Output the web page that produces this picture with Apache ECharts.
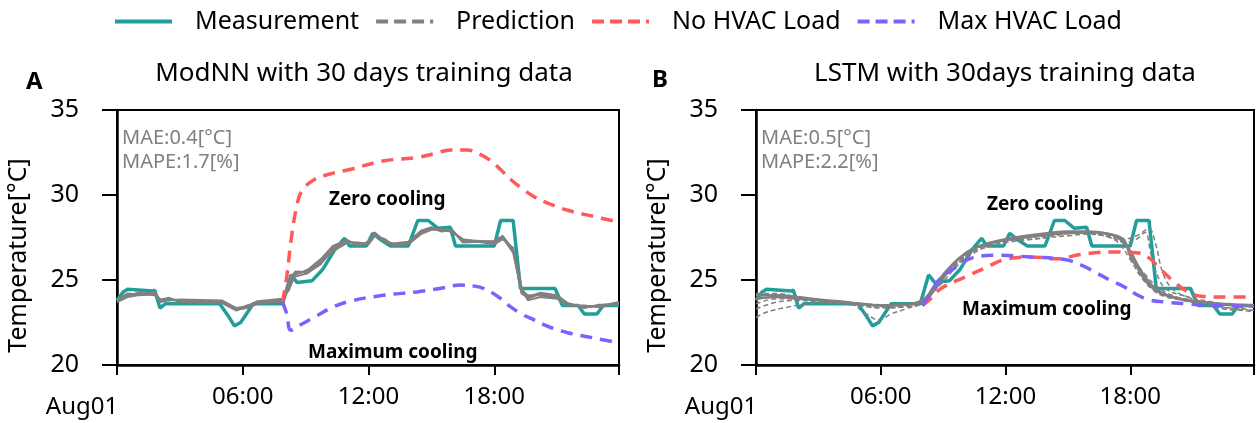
<!DOCTYPE html>
<html>
<head>
<meta charset="utf-8">
<script src="https://cdn.jsdelivr.net/npm/echarts@6/dist/echarts.min.js"></script>
<style>
  html, body { margin: 0; padding: 0; background: #fff; }
  #main { width: 1257px; height: 423px; }
</style>
</head>
<body>
<div id="main"></div>
<script>
// hours since Aug01 00:00, temperature in °C
var measurement = [[0,23.8],[0.3,24.3],[0.5,24.45],[1.7,24.35],[1.8,24.4],[2.05,23.35],[2.3,23.6],[4.9,23.6],[5.3,22.9],[5.6,22.3],[5.9,22.5],[6.5,23.6],[7.9,23.6],[8.3,25.3],[8.6,24.85],[9.3,24.95],[9.8,25.6],[10.4,26.8],[10.85,27.45],[11.1,27.0],[11.9,27.0],[12.2,27.75],[12.6,27.35],[13.05,27.0],[13.9,27.0],[14.35,28.5],[14.85,28.5],[15.3,28.05],[15.9,28.1],[16.15,27.0],[18.0,27.0],[18.3,28.5],[18.9,28.5],[19.25,24.5],[20.9,24.5],[21.25,23.5],[22.0,23.5],[22.3,23.0],[22.9,23.0],[23.2,23.5],[23.95,23.5]];

// ModNN predictions
var predA1 = [[0,23.8],[0.5,24.1],[1.0,24.2],[1.8,24.2],[2.1,23.7],[2.5,23.9],[3,23.8],[5,23.75],[5.7,23.3],[6.2,23.4],[6.7,23.7],[7.9,23.85],[8.2,24.6],[8.5,25.4],[9.1,25.5],[9.7,26.1],[10.3,26.9],[11.0,27.3],[11.5,27.1],[12.0,27.2],[12.3,27.7],[12.8,27.3],[13.2,27.1],[13.9,27.2],[14.5,27.9],[15.0,28.1],[15.5,27.9],[16.0,27.9],[16.5,27.3],[18.0,27.2],[18.4,27.55],[18.9,26.8],[19.3,24.3],[19.6,23.9],[20.2,24.2],[21.0,24.0],[21.5,23.6],[22.3,23.4],[23.0,23.5],[23.95,23.6]];
var predA2 = [[0,23.7],[0.5,24.0],[1.0,24.1],[1.8,24.15],[2.1,23.8],[2.5,23.85],[3,23.75],[5,23.7],[5.7,23.25],[6.2,23.35],[6.7,23.6],[7.9,23.8],[8.2,24.8],[8.5,25.2],[9.1,25.4],[9.7,26.0],[10.3,26.7],[11.0,27.2],[11.5,27.2],[12.0,27.1],[12.3,27.6],[12.8,27.4],[13.2,27.0],[13.9,27.1],[14.5,27.7],[15.0,27.95],[15.5,28.0],[16.0,27.8],[16.5,27.4],[18.0,27.1],[18.4,27.4],[18.9,26.9],[19.3,24.6],[19.6,23.8],[20.2,24.0],[21.0,23.9],[21.5,23.5],[22.3,23.5],[23.0,23.4],[23.95,23.65]];
var predA3 = [[0,23.85],[0.5,24.2],[1.0,24.15],[1.8,24.3],[2.1,23.75],[2.5,23.8],[3,23.85],[5,23.8],[5.7,23.35],[6.2,23.45],[6.7,23.75],[7.9,23.9],[8.2,24.4],[8.5,25.3],[9.1,25.6],[9.7,26.2],[10.3,27.0],[11.0,27.35],[11.5,27.0],[12.0,27.25],[12.3,27.8],[12.8,27.25],[13.2,27.15],[13.9,27.25],[14.5,27.85],[15.0,28.05],[15.5,27.85],[16.0,27.95],[16.5,27.2],[18.0,27.3],[18.4,27.6],[18.9,26.7],[19.3,24.2],[19.6,24.0],[20.2,24.25],[21.0,24.1],[21.5,23.65],[22.3,23.35],[23.0,23.55],[23.95,23.55]];
var predA4 = [[0,23.75],[0.5,24.05],[1.0,24.25],[1.8,24.1],[2.1,23.85],[2.5,23.95],[3,23.7],[5,23.65],[5.7,23.2],[6.2,23.5],[6.7,23.65],[7.9,23.75],[8.2,25.0],[8.5,25.5],[9.1,25.45],[9.7,25.9],[10.3,26.8],[11.0,27.25],[11.5,27.15],[12.0,27.15],[12.3,27.65],[12.8,27.35],[13.2,27.05],[13.9,27.15],[14.5,27.8],[15.0,28.0],[15.5,27.95],[16.0,27.85],[16.5,27.35],[18.0,27.25],[18.4,27.5],[18.9,26.6],[19.3,24.4],[19.6,24.1],[20.2,24.1],[21.0,23.95],[21.5,23.55],[22.3,23.45],[23.0,23.45],[23.95,23.7]];

// LSTM predictions
var predB1 = [[0,23.9],[1,24.0],[2,23.9],[3,23.8],[4,23.7],[5,23.6],[6,23.5],[7,23.55],[7.7,23.65],[8.2,23.9],[8.7,24.6],[9.3,25.7],[10.1,26.6],[10.8,27.0],[11.7,27.3],[13.2,27.55],[14.85,27.75],[16.4,27.8],[17.2,27.65],[17.7,27.35],[18.0,26.4],[18.4,25.6],[18.7,25.0],[19.1,24.5],[19.5,24.2],[20.0,24.0],[20.7,23.8],[21.5,23.7],[22.3,23.6],[23.2,23.55],[23.95,23.5]];
var predB2 = [[0,22.8],[0.5,23.1],[1.5,23.4],[2.5,23.6],[3.5,23.65],[5,23.5],[6,23.4],[7,23.45],[8,23.75],[8.5,24.3],[9,24.9],[9.5,25.6],[10,26.2],[10.5,26.6],[11,26.9],[12,27.2],[13,27.35],[14,27.5],[15,27.6],[16,27.7],[17,27.5],[17.5,27.1],[18,26.2],[18.5,25.2],[19,24.5],[19.5,24.1],[20.5,23.8],[21.5,23.6],[22.5,23.3],[23.5,23.2],[23.95,23.1]];
var predB3 = [[0,23.3],[1,23.7],[2,23.8],[3,23.7],[4.5,23.6],[5.3,23.0],[5.9,22.65],[6.5,23.0],[7.2,23.3],[8,23.7],[8.6,24.5],[9.2,25.4],[9.8,26.1],[10.4,26.6],[11,27.0],[12,27.3],[13,27.4],[14,27.5],[14.6,27.8],[15.5,27.8],[16.3,27.7],[17.2,27.45],[17.8,27.0],[18.3,26.0],[18.8,25.2],[19.3,24.6],[20,24.1],[21,23.8],[22,23.5],[23,23.3],[23.95,23.2]];
var predB4 = [[0,24.2],[1,24.2],[2,24.0],[3,23.8],[4,23.7],[5,23.6],[6,23.55],[7,23.55],[8,23.7],[8.6,24.4],[9.2,25.4],[9.8,26.2],[10.4,26.7],[11,27.0],[12,27.3],[13,27.5],[14,27.7],[15,27.8],[16,27.8],[17,27.6],[17.8,27.2],[18.3,27.4],[18.7,27.8],[19.0,26.5],[19.4,25.0],[19.8,24.4],[20.5,24.1],[21.5,23.7],[22.5,23.4],[23.5,23.3],[23.95,23.2]];
var predB5 = [[0,23.6],[1,23.9],[2,23.9],[3,23.8],[4,23.65],[5,23.5],[6,23.35],[7,23.4],[8,23.6],[8.7,24.6],[9.3,25.5],[9.9,26.2],[10.5,26.8],[11.2,27.1],[12.2,27.35],[13.2,27.5],[14.2,27.6],[15.2,27.75],[16.2,27.8],[17,27.7],[17.7,27.4],[18.3,27.6],[18.9,28.0],[19.2,27.2],[19.6,25.3],[20.1,24.4],[20.8,24.0],[22,23.7],[23,23.5],[23.95,23.4]];
var predB6 = [[0,24.1],[1,24.1],[2,24.0],[3,23.85],[4,23.75],[5,23.6],[6,23.5],[7,23.55],[8,23.8],[8.6,24.7],[9.2,25.6],[9.8,26.3],[10.4,26.8],[11,27.1],[12,27.4],[13,27.6],[14,27.75],[15,27.85],[16,27.85],[16.8,27.75],[17.4,27.5],[17.9,26.9],[18.3,26.0],[18.7,25.2],[19.2,24.5],[19.8,24.1],[20.6,23.85],[21.5,23.7],[22.5,23.55],[23.5,23.5],[23.95,23.45]];

var noLoadA = [[7.9,23.7],[8.1,25.2],[8.3,27.3],[8.55,29.2],[8.8,30.2],[9.4,30.9],[10.2,31.25],[11.1,31.5],[12.7,32.0],[14.3,32.2],[15.2,32.45],[15.9,32.65],[16.7,32.65],[17.3,32.4],[17.8,32.05],[18.3,31.5],[18.8,30.9],[19.3,30.4],[19.9,29.9],[20.6,29.5],[21.5,29.1],[22.7,28.75],[23.95,28.4]];
var maxLoadA = [[7.9,23.7],[8.1,23.0],[8.3,22.05],[8.8,22.4],[9.4,22.8],[10.2,23.35],[11.1,23.75],[12.7,24.1],[14.3,24.3],[15.4,24.5],[16.4,24.7],[17.0,24.65],[17.5,24.5],[18.2,24.0],[18.8,23.4],[19.3,23.0],[19.9,22.65],[20.6,22.25],[21.5,21.9],[22.7,21.6],[23.95,21.3]];
var noLoadB = [[8.0,23.5],[8.4,23.9],[8.9,24.5],[10.1,25.2],[11.0,25.7],[12.1,26.25],[13.2,26.35],[14.5,26.25],[15.6,26.5],[17.2,26.65],[18.3,26.6],[18.9,26.3],[19.4,25.7],[20.1,24.9],[20.7,24.35],[21.4,24.05],[22.5,24.0],[23.95,24.0]];
var maxLoadB = [[8.0,23.5],[8.4,24.2],[8.8,25.0],[9.6,25.75],[10.4,26.3],[11.7,26.45],[13.2,26.35],[14.85,26.2],[15.7,25.85],[16.4,25.4],[17.1,24.95],[17.7,24.6],[18.3,24.15],[18.85,23.85],[19.7,23.7],[20.7,23.6],[22.0,23.5],[23.95,23.45]];

var xTicks = {0: 'Aug01', 6: '06:00', 12: '12:00', 18: '18:00'};
var metricsA = ['MAE:0.4[°C]', 'MAPE:1.7[%]'];
var metricsB = ['MAE:0.5[°C]', 'MAPE:2.2[%]'];

var FONT = 'Noto Sans';
var TEAL = '#1f9e9b', GRAY = '#808080', RED = '#ff5a5a', PURPLE = '#7b61ff';

function xAxis(idx) {
    return {
        type: 'value', gridIndex: idx, min: 0, max: 23.95, interval: 6,
        axisLine: { lineStyle: { color: '#000', width: 2.5 } },
        axisTick: { length: 10, lineStyle: { color: '#000', width: 2 } },
        splitLine: { show: false },
        axisLabel: {
            color: '#000', fontFamily: FONT, fontSize: 24, margin: 20,
            formatter: function (v) {
                if (v === 0) return '{first|Aug01}';
                return xTicks[v] || '';
            },
            rich: { first: { fontFamily: FONT, fontSize: 24, color: '#000', padding: [10, 70, 0, 0] } }
        }
    };
}
function yAxis(idx) {
    return {
        type: 'value', gridIndex: idx, min: 20, max: 35, interval: 5,
        name: 'Temperature[°C]', nameLocation: 'middle', nameGap: 86,
        nameTextStyle: { color: '#000', fontFamily: FONT, fontSize: 25, padding: [0, 36, 0, 0] },
        axisLine: { lineStyle: { color: '#000', width: 2.5 } },
        axisTick: { length: 15, lineStyle: { color: '#000', width: 2 } },
        splitLine: { show: false },
        axisLabel: { color: '#000', fontFamily: FONT, fontSize: 25, margin: 38 }
    };
}
function line(name, data, idx, color, width, type, smooth) {
    return {
        name: name, type: 'line', data: data, xAxisIndex: idx, yAxisIndex: idx,
        symbol: 'none', smooth: smooth || false, silent: true,
        lineStyle: { color: color, width: width, type: type || 'solid' },
        itemStyle: { color: color }
    };
}

var series = [
    line('Measurement', measurement, 0, TEAL, 3.5),
    line('Prediction', predA1, 0, GRAY, 2),
    line('Prediction', predA2, 0, GRAY, 2),
    line('Prediction', predA3, 0, GRAY, 2),
    line('Prediction', predA4, 0, GRAY, 2),
    line('No HVAC Load', noLoadA, 0, RED, 3.5, [12, 8], 0.4),
    line('Max HVAC Load', maxLoadA, 0, PURPLE, 3.5, [12, 8], 0.4),
    line('Measurement', measurement, 1, TEAL, 3.5),
    line('Prediction', predB1, 1, GRAY, 2.5, 'solid', 0.4),
    line('Prediction', predB6, 1, GRAY, 2.5, 'solid', 0.4),
    line('Prediction', predB2, 1, GRAY, 1.5, [5, 3], 0.4),
    line('Prediction', predB3, 1, GRAY, 1.5, [5, 3], 0.4),
    line('Prediction', predB4, 1, GRAY, 1.5, [5, 3], 0.4),
    line('Prediction', predB5, 1, GRAY, 1.5, [5, 3], 0.4),
    line('No HVAC Load', noLoadB, 1, RED, 3.5, [12, 8], 0.4),
    line('Max HVAC Load', maxLoadB, 1, PURPLE, 3.5, [12, 8], 0.4)
];

function txt(x, y, text, size, color, weight, align) {
    return {
        type: 'text', left: x, top: y, silent: true,
        style: { text: text, fill: color, fontFamily: FONT, fontSize: size, fontWeight: weight || 'normal', textAlign: align || 'left', textVerticalAlign: 'middle' }
    };
}

var chart = echarts.init(document.getElementById('main'));
chart.setOption({
    animation: false,
    backgroundColor: '#fff',
    legend: {
        top: 4, left: 108, itemWidth: 57, itemHeight: 14, itemGap: 15,
        itemStyle: { opacity: 0 },
        textStyle: { fontFamily: FONT, fontSize: 25, color: '#000', rich: { t: { fontFamily: FONT, fontSize: 25, color: '#000', padding: [0, 0, 0, 18] } } },
        formatter: '{t|{name}}',
        data: [
            { name: 'Measurement', lineStyle: { width: 4 } },
            { name: 'Prediction', lineStyle: { type: [12, 6], width: 4, color: GRAY } },
            { name: 'No HVAC Load', lineStyle: { type: [12, 6], width: 4 } },
            { name: 'Max HVAC Load', lineStyle: { type: [12, 6], width: 4 } }
        ]
    },
    title: [
        { text: 'ModNN with 30 days training data', left: 359, top: 56, textAlign: 'center', textStyle: { fontFamily: FONT, fontSize: 26, fontWeight: 'normal', color: '#000' } },
        { text: 'LSTM with 30days training data', left: 1000, top: 56, textAlign: 'center', textStyle: { fontFamily: FONT, fontSize: 26, fontWeight: 'normal', color: '#000' } }
    ],
    grid: [
        { left: 117, top: 110, width: 502, height: 255, show: true, borderColor: '#000', borderWidth: 2, backgroundColor: 'transparent' },
        { left: 756, top: 110, width: 499, height: 255, show: true, borderColor: '#000', borderWidth: 2, backgroundColor: 'transparent' }
    ],
    xAxis: [xAxis(0), xAxis(1)],
    yAxis: [yAxis(0), yAxis(1)],
    series: series,
    graphic: [
        txt(26, 70, 'A', 24, '#000', 'bold'),
        txt(652, 68, 'B', 24, '#000', 'bold'),
        txt(122, 128, metricsA[0], 20, GRAY),
        txt(122, 152, metricsA[1], 20, GRAY),
        txt(761, 128, metricsB[0], 20, GRAY),
        txt(761, 152, metricsB[1], 20, GRAY),
        txt(329, 190, 'Zero cooling', 19, '#000', 'bold'),
        txt(308, 343, 'Maximum cooling', 19, '#000', 'bold'),
        txt(987, 195, 'Zero cooling', 19, '#000', 'bold'),
        txt(962, 300, 'Maximum cooling', 19, '#000', 'bold')
    ]
});
</script>
</body>
</html>
